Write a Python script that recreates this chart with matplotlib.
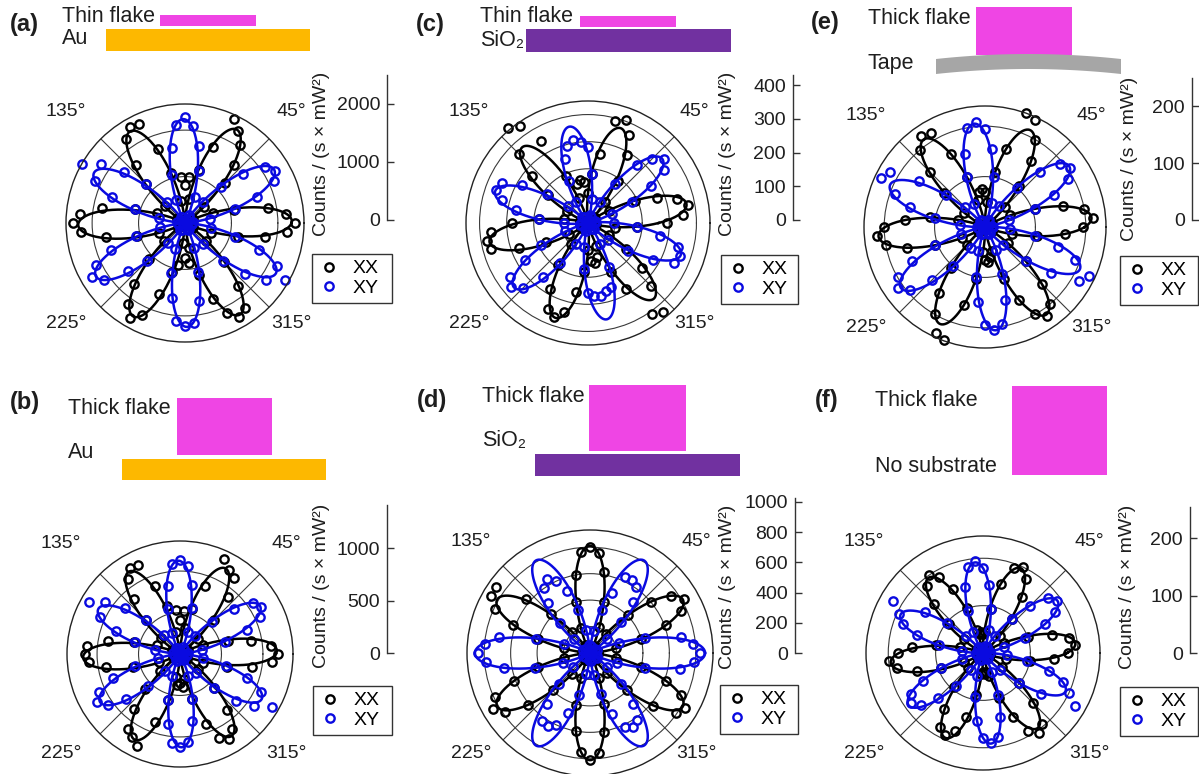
import numpy as np
import matplotlib
matplotlib.use('Agg')
import matplotlib.pyplot as plt
from matplotlib.patches import Rectangle, Polygon

plt.rcParams['font.family'] = ['Liberation Sans', 'DejaVu Sans']

W, H = 1199, 774

# polarization angle of each measurement (deg)
angles_deg = np.arange(0, 360, 5)

# measured intensities, Counts / (s x mW^2), one row per 60 deg
a_xx = [1900, 1750, 1450, 880, 520, 150, 60, 120, 430, 980, 1300, 1650,
        1840, 1980, 1400, 950, 420, 790, 650, 800, 380, 900, 1350, 1880,
        1900, 1760, 1300, 960, 450, 140, 40, 160, 520, 900, 1450, 1820,
        1930, 1800, 1380, 850, 480, 120, 50, 140, 470, 870, 1380, 1700,
        1880, 1750, 1300, 880, 740, 350, 600, 700, 430, 920, 1400, 1720,
        1860, 1790, 1420, 940, 470, 140, 50, 150, 480, 950, 1400, 1770]
a_xy = [40, 130, 430, 900, 1320, 1700, 1800, 1690, 1300, 880, 470, 110,
        60, 150, 480, 920, 1350, 1680, 1820, 1700, 1320, 860, 430, 120,
        50, 130, 470, 950, 1380, 1760, 2050, 1720, 1330, 900, 450, 140,
        30, 120, 440, 880, 1350, 1700, 1850, 1700, 1280, 920, 460, 150,
        50, 140, 480, 900, 1320, 1690, 1780, 1730, 1360, 870, 450, 130,
        40, 120, 470, 930, 1360, 1700, 1980, 1740, 1350, 900, 460, 120]

b_xx = [950, 880, 700, 480, 240, 80, 20, 70, 230, 470, 720, 900,
        940, 1010, 700, 450, 250, 420, 330, 430, 220, 480, 700, 950,
        960, 880, 690, 470, 240, 60, 20, 80, 240, 460, 710, 900,
        920, 880, 720, 470, 220, 70, 30, 60, 250, 480, 690, 880,
        930, 975, 700, 460, 230, 300, 280, 320, 240, 450, 720, 890,
        950, 880, 700, 460, 230, 80, 20, 70, 240, 470, 710, 890]
b_xy = [30, 80, 220, 450, 690, 850, 900, 860, 680, 440, 230, 60,
        20, 70, 230, 460, 680, 850, 910, 870, 670, 450, 220, 60,
        30, 70, 240, 460, 690, 880, 1010, 850, 660, 450, 240, 70,
        20, 60, 220, 450, 690, 860, 920, 850, 680, 440, 220, 70,
        30, 70, 230, 460, 690, 860, 900, 850, 660, 450, 230, 60,
        20, 60, 240, 460, 700, 870, 1030, 860, 690, 460, 230, 70]

c_xx = [290, 350, 375, 340, 270, 190, 90, 30, 10, 30, 100, 190,
        290, 360, 405, 390, 260, 180, 110, 150, 160, 150, 100, 190,
        350, 435, 458, 360, 270, 180, 90, 25, 10, 30, 90, 180,
        280, 360, 380, 370, 270, 170, 80, 30, 15, 25, 100, 190,
        280, 350, 370, 340, 260, 180, 100, 140, 150, 130, 90, 200,
        280, 411, 430, 330, 260, 170, 90, 30, 10, 30, 100, 180]
c_xy = [95, 30, 10, 25, 95, 180, 270, 340, 365, 335, 280, 175,
        90, 25, 10, 30, 90, 180, 280, 300, 310, 295, 250, 170,
        90, 25, 10, 30, 95, 185, 280, 350, 360, 330, 270, 180,
        90, 30, 5, 30, 90, 190, 270, 350, 370, 340, 260, 180,
        90, 25, 10, 30, 90, 170, 260, 270, 275, 260, 250, 180,
        90, 25, 10, 30, 95, 180, 275, 350, 360, 345, 270, 180]

d_xx = [20, 60, 200, 400, 610, 760, 820, 750, 600, 410, 190, 60,
        20, 50, 210, 400, 620, 760, 800, 770, 600, 400, 200, 70,
        20, 60, 210, 420, 630, 870, 860, 790, 620, 410, 200, 60,
        20, 50, 200, 410, 610, 790, 850, 780, 610, 400, 210, 60,
        20, 60, 200, 410, 600, 750, 810, 760, 610, 400, 200, 60,
        30, 60, 200, 400, 620, 790, 830, 760, 610, 400, 200, 60]
d_xy = [830, 780, 700, 430, 230, 60, 20, 50, 170, 330, 500, 610,
        640, 630, 480, 340, 170, 50, 20, 60, 180, 340, 500, 600,
        650, 600, 490, 320, 160, 50, 20, 60, 210, 420, 700, 800,
        845, 790, 660, 430, 220, 60, 20, 50, 170, 330, 500, 630,
        640, 600, 480, 330, 160, 50, 20, 60, 170, 320, 490, 620,
        650, 620, 500, 330, 170, 60, 20, 60, 220, 430, 690, 790]

e_xx = [195, 215, 200, 160, 105, 55, 15, 5, 15, 55, 105, 160,
        200, 235, 240, 160, 110, 50, 70, 75, 70, 55, 105, 160,
        215, 220, 200, 155, 105, 50, 15, 5, 15, 55, 110, 160,
        200, 215, 200, 160, 105, 50, 15, 5, 15, 50, 105, 160,
        200, 232, 239, 160, 105, 50, 65, 70, 60, 50, 110, 160,
        200, 215, 200, 160, 105, 55, 15, 5, 15, 55, 105, 160]
e_xy = [15, 5, 15, 50, 105, 150, 190, 205, 195, 155, 100, 50,
        15, 5, 15, 50, 100, 155, 195, 210, 200, 150, 105, 50,
        15, 5, 15, 55, 100, 160, 218, 228, 190, 155, 100, 50,
        15, 5, 15, 50, 105, 160, 200, 210, 195, 150, 100, 50,
        15, 5, 15, 50, 100, 150, 195, 205, 195, 150, 100, 50,
        15, 5, 15, 50, 105, 160, 216, 228, 190, 150, 100, 50]

f_xx = [180, 195, 185, 150, 100, 50, 15, 5, 15, 50, 95, 145,
        180, 200, 190, 150, 95, 45, 40, 45, 40, 50, 100, 150,
        185, 200, 185, 145, 95, 50, 15, 5, 15, 50, 100, 150,
        180, 200, 185, 145, 95, 45, 15, 5, 15, 45, 95, 145,
        180, 190, 175, 140, 90, 45, 40, 45, 40, 50, 100, 150,
        190, 205, 195, 150, 100, 50, 15, 5, 15, 50, 100, 150]
f_xy = [15, 5, 15, 45, 95, 145, 175, 190, 180, 140, 95, 45,
        15, 5, 15, 50, 95, 145, 180, 195, 185, 145, 95, 50,
        15, 5, 15, 50, 100, 150, 219, 195, 180, 145, 95, 45,
        15, 5, 15, 45, 95, 140, 175, 185, 170, 135, 90, 45,
        15, 5, 15, 50, 95, 145, 180, 190, 180, 140, 95, 45,
        15, 5, 15, 50, 100, 150, 224, 200, 180, 145, 95, 50]

# fitted curves: (amplitude, anisotropy, phase in deg)
a_xx_fit, a_xy_fit = (1840, 0, 1), (1790, 0, 31)
b_xx_fit, b_xy_fit = (935, 0, 2), (900, 0, 31)
c_xx_fit, c_xy_fit = (370, 0, 11), (362, 0, 41)
d_xx_fit, d_xy_fit = (810, 0, 30), (830, 40, 0)
e_xx_fit, e_xy_fit = (212, 0, 5), (206, 0, 36)
f_xx_fit, f_xy_fit = (196, 0, 6), (192, 0, 35)

# radial range and grid rings of each polar plot
polar_rmax = [2050, 1090, 450, 930, 240, 247]
polar_rings = [[800, 1600], [400, 800], [100, 200, 300, 400],
               [200, 400, 600, 800], [100, 200], [100, 200]]

# count scale bars: upper limit and tick values
bar_ymax = [2500, 1410, 430, 1025, 250, 254]
bar_ticks = [[0, 1000, 2000], [0, 500, 1000], [0, 100, 200, 300, 400],
             [0, 200, 400, 600, 800, 1000], [0, 100, 200], [0, 100, 200]]

PINK = '#ef45e4'
GOLD = '#fdb800'
PURPLE = '#7131a0'
TAPE = '#a6a6a6'
BLUE = '#0a0ae0'
TXT = '#1e1e1e'

# layout in pixels: polar centre, radius, scale bar x/top/bottom, ylabel centre, legend box
layout = [
    dict(c=(185, 223), R=119, bar=(387, 75, 220), lab=(322, 154), leg=(312, 254, 80, 51)),
    dict(c=(180, 654), R=113, bar=(387, 505, 653), lab=(322, 586), leg=(313, 686, 79, 50)),
    dict(c=(588, 223), R=122, bar=(793, 75, 220), lab=(728, 154), leg=(721, 255, 77, 50)),
    dict(c=(590, 653), R=123, bar=(795, 498, 653), lab=(728, 587), leg=(720, 685, 78, 50)),
    dict(c=(985, 227), R=121, bar=(1192, 78, 220), lab=(1130, 159), leg=(1120, 256, 78, 50)),
    dict(c=(983, 653), R=117, bar=(1190, 507, 653), lab=(1128, 587), leg=(1120, 687, 78, 48)),
]

# angle labels, pixel offsets from the polar centre
angle_offsets = {45: (106, -111), 135: (-119, -111), 225: (-119, 100), 315: (106, 100)}

series = [(a_xx, a_xy, a_xx_fit, a_xy_fit), (b_xx, b_xy, b_xx_fit, b_xy_fit),
          (c_xx, c_xy, c_xx_fit, c_xy_fit), (d_xx, d_xy, d_xx_fit, d_xy_fit),
          (e_xx, e_xy, e_xx_fit, e_xy_fit), (f_xx, f_xy, f_xx_fit, f_xy_fit)]


def petal_fit(t, amp, aniso, phase):
    d = t - np.deg2rad(phase)
    return np.cos(3 * d) ** 2 * (amp + aniso * np.cos(2 * d))


def box(x0, y0, w, h):
    return [x0 / W, 1 - (y0 + h) / H, w / W, h / H]


fig = plt.figure(figsize=(W / 100, H / 100), dpi=100)
bg = fig.add_axes([0, 0, 1, 1])
bg.set_xlim(0, W)
bg.set_ylim(H, 0)
bg.axis('off')


def label(x, y, s, size=15.5, **kw):
    bg.text(x, y, s, fontsize=size, color=TXT, ha='left', va='center', **kw)


# sample schematics above each plot
for x, y, t in [(10, 25, '(a)'), (10, 402, '(b)'), (416, 25, '(c)'),
                (417, 400, '(d)'), (811, 22, '(e)'), (815, 401, '(f)')]:
    label(x, y, t, size=17, fontweight='bold')

label(62, 17, 'Thin flake')
label(62, 39, 'Au')
bg.add_patch(Rectangle((160, 15), 96, 11, color=PINK, lw=0))
bg.add_patch(Rectangle((106, 29), 204, 22, color=GOLD, lw=0))

label(480, 17, 'Thin flake')
label(480, 40, 'SiO₂')
bg.add_patch(Rectangle((580, 16), 96, 11, color=PINK, lw=0))
bg.add_patch(Rectangle((526, 29), 205, 23, color=PURPLE, lw=0))

label(868, 19, 'Thick flake')
label(868, 63, 'Tape')
bg.add_patch(Rectangle((976, 7), 96, 48, color=PINK, lw=0))
tx = np.linspace(936, 1121, 60)
u = (tx - tx.mean()) / (tx[-1] - tx.mean())
top = 59 - 5 * (1 - u ** 2)
bg.add_patch(Polygon(np.column_stack([np.r_[tx, tx[::-1]], np.r_[top, (top + 15)[::-1]]]),
                     closed=True, color=TAPE, lw=0))

label(68, 409, 'Thick flake')
label(68, 453, 'Au')
bg.add_patch(Rectangle((177, 398), 95, 57, color=PINK, lw=0))
bg.add_patch(Rectangle((122, 459), 204, 21, color=GOLD, lw=0))

label(482, 396, 'Thick flake')
label(482, 441, 'SiO₂')
bg.add_patch(Rectangle((589, 385), 97, 66, color=PINK, lw=0))
bg.add_patch(Rectangle((535, 454), 205, 22, color=PURPLE, lw=0))

label(875, 401, 'Thick flake')
label(875, 466, 'No substrate')
bg.add_patch(Rectangle((1012, 386), 95, 89, color=PINK, lw=0))

theta = np.deg2rad(angles_deg)
theta_fit = np.linspace(0, 2 * np.pi, 1441)

for i, (xx, xy, xx_fit, xy_fit) in enumerate(series):
    lay = layout[i]
    cx, cy = lay['c']
    R = lay['R']
    rmax = polar_rmax[i]

    ax = fig.add_axes(box(cx - R, cy - R, 2 * R, 2 * R), projection='polar')
    ax.set_ylim(0, rmax)
    ax.set_yticks(polar_rings[i])
    ax.set_yticklabels([])
    ax.set_xticks(np.deg2rad([45, 135, 225, 315]))
    ax.set_xticklabels([])
    ax.tick_params(length=0)
    ax.grid(True, color='#3a3a3a', lw=0.8)
    ax.spines['polar'].set_color('#222222')
    ax.spines['polar'].set_linewidth(1.0)
    ax.patch.set_alpha(0)

    pts_xx, = ax.plot(theta, xx, 'o', ms=6, mfc='none', mec='k', mew=1.7, clip_on=False)
    ax.plot(theta_fit, petal_fit(theta_fit, *xx_fit), color='k', lw=1.8, clip_on=False)
    pts_xy, = ax.plot(theta, xy, 'o', ms=6, mfc='none', mec=BLUE, mew=1.7, clip_on=False)
    ax.plot(theta_fit, petal_fit(theta_fit, *xy_fit), color=BLUE, lw=1.8, clip_on=False)

    for a, (dx, dy) in angle_offsets.items():
        bg.text(cx + dx, cy + dy, f'{a}°', fontsize=14, color=TXT, ha='center', va='center')

    # intensity scale bar
    bx, btop, bbot = lay['bar']
    sb = fig.add_axes(box(bx, btop, 10, bbot - btop))
    sb.set_ylim(0, bar_ymax[i])
    sb.set_yticks(bar_ticks[i])
    sb.set_xticks([])
    for s in ['top', 'right', 'bottom']:
        sb.spines[s].set_visible(False)
    sb.spines['left'].set_color('#333333')
    sb.spines['left'].set_linewidth(1.0)
    sb.patch.set_alpha(0)
    sb.tick_params(axis='y', direction='in', length=5, width=1, labelsize=14,
                   pad=5, colors='#333333', labelcolor=TXT)

    lx, ly = lay['lab']
    bg.text(lx, ly, 'Counts / (s × mW²)', rotation=90, fontsize=14, color=TXT,
            ha='center', va='center')

    gx, gy, gw, gh = lay['leg']
    leg = fig.legend([pts_xx, pts_xy], ['XX', 'XY'], loc='upper left',
                     bbox_to_anchor=(gx / W, 1 - (gy + gh) / H, gw / W, gh / H), mode='expand',
                     fontsize=14, frameon=True, fancybox=False, edgecolor='#333333',
                     framealpha=1, borderpad=0.3, labelspacing=0.1, handlelength=1.1,
                     handletextpad=0.7, borderaxespad=0)
    leg.get_frame().set_linewidth(1.0)

fig.savefig('out.png', dpi=100)
